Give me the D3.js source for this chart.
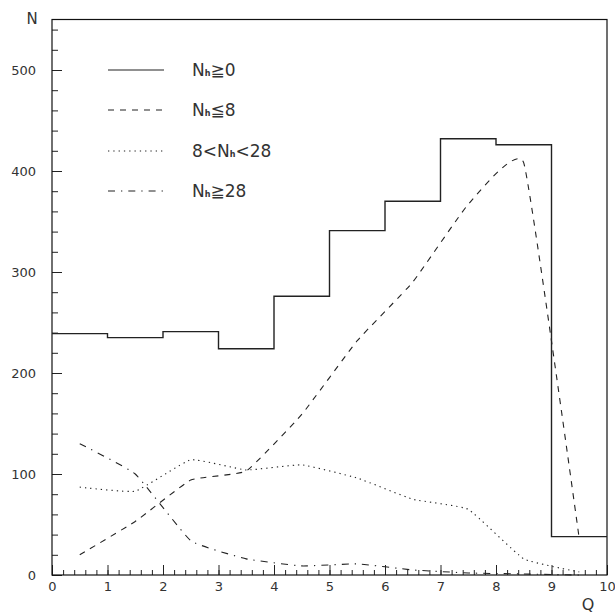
<!DOCTYPE html>
<html>
<head>
<meta charset="utf-8">
<script src="https://cdn.jsdelivr.net/npm/d3@7"></script>
<style>
  body { margin: 0; background: #fff; }
  text { font-family: "DejaVu Sans", sans-serif; fill: #333; }
</style>
</head>
<body>
<div id="chart"></div>
<script>
// bin centres in Q, one value per unit bin
let qCenters = [0.5, 1.5, 2.5, 3.5, 4.5, 5.5, 6.5, 7.5, 8.5, 9.5];
let allCounts = [239, 235, 241, 224, 276, 341, 370, 432, 426, 38];   // N_h >= 0 (histogram)
let lowNh = [20, 53, 94, 103, 159, 232, 290, 367, 408, 36];          // N_h <= 8
let midNh = [87, 83, 114, 104, 109, 96, 75, 65, 16, 3];              // 8 < N_h < 28
let highNh = [130, 100, 34, 16, 9, 11, 5, 2, 1, 0];                  // N_h >= 28
let yTicks = [0, 100, 200, 300, 400, 500];
let xTicks = [0, 1, 2, 3, 4, 5, 6, 7, 8, 9, 10];

const width = 615, height = 615;
let svg = d3.select('#chart').append('svg')
    .attr('width', width)
    .attr('height', height);

let x = d3.scaleLinear().domain([0, 10]).range([52, 607]);
let y = d3.scaleLinear().domain([0, 550]).range([575, 19.5]);

// axes, ticks drawn inward like the original
svg.append('g').attr('transform', `translate(${x(0)},0)`)
    .call(d3.axisLeft(y).tickValues(yTicks).tickSize(-10).tickPadding(16));
svg.append('g').attr('transform', `translate(${x(0)},0)`)
    .call(d3.axisLeft(y).tickValues(d3.range(0, 551, 20)).tickSize(-6).tickFormat(''));
svg.append('g').attr('transform', `translate(0,${y(0)})`)
    .call(d3.axisBottom(x).tickValues(xTicks).tickSize(-10).tickPadding(7));
svg.append('g').attr('transform', `translate(0,${y(0)})`)
    .call(d3.axisBottom(x).tickValues(d3.range(0, 10.01, 0.2)).tickSize(-5).tickFormat(''));

svg.selectAll('.domain').remove();
svg.selectAll('.tick line').attr('stroke', '#222');
svg.selectAll('.tick text').attr('font-size', 13).attr('fill', '#333')
    .attr('font-family', '"DejaVu Sans", sans-serif');

// frame
svg.append('rect')
    .attr('x', x(0)).attr('y', y(550))
    .attr('width', x(10) - x(0)).attr('height', y(0) - y(550))
    .attr('fill', 'none').attr('stroke', '#111').attr('stroke-width', 1.2);

svg.append('text').attr('x', 32).attr('y', 24).attr('text-anchor', 'middle')
    .attr('font-size', 15).text('N');
svg.append('text').attr('x', 588).attr('y', 610).attr('text-anchor', 'middle')
    .attr('font-size', 16).text('Q');

// histogram for N_h >= 0
let histPts = qCenters.map((q, i) => [q - 0.5, allCounts[i]]);
histPts.push([10, allCounts[allCounts.length - 1]]);
svg.append('path')
    .datum(histPts)
    .attr('fill', 'none')
    .attr('stroke', '#222')
    .attr('stroke-width', 1.4)
    .attr('d', d3.line().x(d => x(d[0])).y(d => y(d[1])).curve(d3.curveStepAfter));

let series = [
    { values: lowNh, dash: '6,6' },
    { values: midNh, dash: '1.3,4' },
    { values: highNh, dash: '7,6,1.3,6' }
];
let curveGen = d3.line()
    .x(d => x(d[0])).y(d => y(d[1]))
    .curve(d3.curveCardinal.tension(0.65));

svg.selectAll('.series')
    .data(series)
    .enter().append('path')
    .attr('class', 'series')
    .attr('fill', 'none')
    .attr('stroke', '#222')
    .attr('stroke-width', 1.1)
    .attr('stroke-dasharray', d => d.dash)
    .attr('d', d => curveGen(qCenters.map((q, i) => [q, d.values[i]])));

// legend
let legend = [
    { pre: '', post: '\u22670', dash: null, ly: 70 },
    { pre: '', post: '\u22668', dash: '6,6', ly: 110 },
    { pre: '8<', post: '<28', dash: '1.3,4', ly: 151 },
    { pre: '', post: '\u226728', dash: '7,6,1.3,6', ly: 191 }
];
let lg = svg.append('g');
legend.forEach(d => {
    lg.append('line')
        .attr('x1', 108).attr('x2', 164)
        .attr('y1', d.ly).attr('y2', d.ly)
        .attr('stroke', '#222').attr('stroke-width', 1.2)
        .attr('stroke-dasharray', d.dash);
    let t = lg.append('text').attr('x', 192).attr('y', d.ly + 6).attr('font-size', 17);
    if (d.pre) t.append('tspan').text(d.pre);
    t.append('tspan').text('N');
    t.append('tspan').attr('font-size', 8).attr('font-weight', 'bold').text('h');
    t.append('tspan').text(d.post);
});
</script>
</body>
</html>
